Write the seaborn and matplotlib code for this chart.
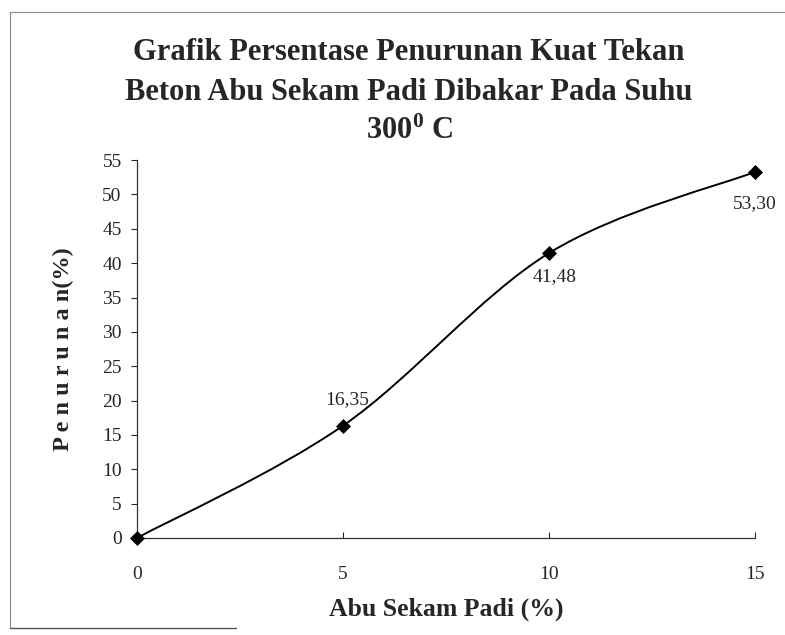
import matplotlib
matplotlib.use("Agg")
import matplotlib.pyplot as plt
from matplotlib.path import Path
from matplotlib.patches import PathPatch
from matplotlib.lines import Line2D
import seaborn as sns
import pandas as pd

# ---------------------------------- Data ----------------------------------

abu_sekam = [0, 5, 10, 15]
penurunan = [0, 16.35, 41.48, 53.30]
label_text = ["", "16,35", "41,48", "53,30"]
label_offset = [(0, 0), (3, 19), (4, -17), (0, -23)]
x_ticks = [0, 5, 10, 15]
y_ticks = list(range(0, 60, 5))

df = pd.DataFrame({"abu": abu_sekam, "turun": penurunan})

# ---------------------------------- Style ----------------------------------

sns.set_style("ticks")
plt.rcParams["font.family"] = ["Liberation Serif", "DejaVu Serif"]
plt.rcParams["mathtext.fontset"] = "custom"
plt.rcParams["mathtext.rm"] = "Liberation Serif:bold"
plt.rcParams["mathtext.bf"] = "Liberation Serif:bold"
plt.rcParams["mathtext.default"] = "bf"

fig = plt.figure(figsize=(7.85, 6.35), dpi=100)
ax = fig.add_axes([0.1745, 0.1528, 0.7875, 0.595])

# smoothed line like the excel chart (catmull-rom -> bezier through the points)
pts = list(zip(abu_sekam, penurunan))
verts = [pts[0]]
codes = [Path.MOVETO]
for i in range(len(pts) - 1):
    p0 = pts[i - 1] if i > 0 else pts[i]
    p1 = pts[i]
    p2 = pts[i + 1]
    p3 = pts[i + 2] if i + 2 < len(pts) else pts[i + 1]
    c1 = (p1[0] + (p2[0] - p0[0]) / 6, p1[1] + (p2[1] - p0[1]) / 6)
    c2 = (p2[0] - (p3[0] - p1[0]) / 6, p2[1] - (p3[1] - p1[1]) / 6)
    verts += [c1, c2, p2]
    codes += [Path.CURVE4] * 3
ax.add_patch(PathPatch(Path(verts, codes), facecolor="none", edgecolor="black",
                       lw=1.4, clip_on=False, zorder=2))

sns.scatterplot(data=df, x="abu", y="turun", marker="D", s=50, color="black",
                edgecolor="black", ax=ax, zorder=3, clip_on=False)

for x, y, t, off in zip(abu_sekam, penurunan, label_text, label_offset):
    if t:
        ax.annotate(t, (x, y), xytext=off, textcoords="offset points",
                    ha="center", va="center", fontsize=14)

ax.set_xlim(0, 15)
ax.set_ylim(0, 55)
ax.set_xticks(x_ticks)
ax.set_yticks(y_ticks)
ax.tick_params(axis="y", direction="out", length=4, width=0.8, labelsize=14, pad=7)
ax.tick_params(axis="x", direction="in", length=4, width=0.8, labelsize=14, pad=20)
sns.despine(ax=ax)
for s in ["left", "bottom"]:
    ax.spines[s].set_linewidth(0.9)
    ax.spines[s].set_color("#333333")

ax.set_xlabel("Abu Sekam Padi (%)", fontsize=18.5, fontweight="bold", labelpad=11)
ax.set_ylabel("P e n u r u n a n(%)", fontsize=17.5, fontweight="bold", labelpad=20)

fig.text(0.521, 0.918, "Grafik Persentase Penurunan Kuat Tekan", ha="center",
         va="center", fontsize=22, fontweight="bold")
fig.text(0.521, 0.855, "Beton Abu Sekam Padi Dibakar Pada Suhu", ha="center",
         va="center", fontsize=22, fontweight="bold")
fig.text(0.521, 0.793, r"300$^{0}$ C", ha="center", va="center", fontsize=22,
         fontweight="bold")

# scanned frame edges
fig.add_artist(Line2D([0.013, 0.013], [0.011, 0.981], transform=fig.transFigure,
                      color="#888888", lw=0.8))
fig.add_artist(Line2D([0.013, 1.0], [0.981, 0.981], transform=fig.transFigure,
                      color="#888888", lw=0.8))
fig.add_artist(Line2D([0.013, 0.3], [0.011, 0.011], transform=fig.transFigure,
                      color="#555555", lw=1.0))

plt.savefig("out.png", dpi=100)
plt.close()
